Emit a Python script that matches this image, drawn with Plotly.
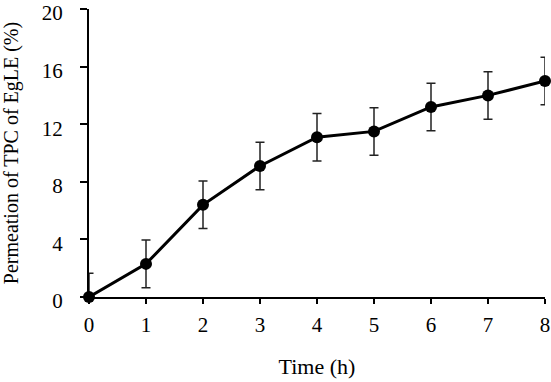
import plotly.graph_objects as go

time_h = [0, 1, 2, 3, 4, 5, 6, 7, 8]
permeation = [0.0, 2.3, 6.4, 9.1, 11.1, 11.5, 13.2, 14.0, 15.0]
error = [1.65, 1.65, 1.65, 1.65, 1.65, 1.65, 1.65, 1.65, 1.65]

font_family = "Liberation Serif, Times New Roman, serif"

fig = go.Figure()
fig.add_trace(go.Scatter(
    x=time_h, y=permeation,
    mode="lines+markers",
    line=dict(color="black", width=3),
    marker=dict(color="black", size=12),
    error_y=dict(type="data", array=error, visible=True,
                 color="#222222", thickness=1.5, width=4.5),
    cliponaxis=False,
    showlegend=False,
))

fig.update_layout(
    width=551, height=382,
    margin=dict(l=89, r=6, t=9, b=85, autoexpand=False),
    paper_bgcolor="white", plot_bgcolor="white",
    font=dict(family=font_family, size=21, color="black"),
    xaxis=dict(
        range=[0, 8], tickmode="linear", tick0=0, dtick=1,
        showgrid=False, zeroline=False, automargin=False,
        showline=True, linecolor="black", linewidth=2,
        ticks="outside", ticklen=5, tickwidth=2, tickcolor="black",
        tickfont=dict(family=font_family, size=21),
        ticklabelstandoff=3, ticklabeloverflow="allow",
        title=dict(text="Time (h)", font=dict(family=font_family, size=22), standoff=22),
    ),
    yaxis=dict(
        range=[0, 20], tickmode="linear", tick0=0, dtick=4,
        showgrid=False, zeroline=False, automargin=False,
        showline=True, linecolor="black", linewidth=2,
        ticks="outside", ticklen=7, tickwidth=2, tickcolor="black",
        tickfont=dict(family=font_family, size=21),
        ticklabelstandoff=13, ticklabeloverflow="allow", ticklabelshift=4,
        title=dict(text="Permeation of TPC of EgLE (%)", font=dict(family=font_family, size=20), standoff=19),
    ),
)

fig.write_html("out.html", config={"displayModeBar": False},
               post_script="document.body.style.margin='0';document.body.style.overflow='hidden';")
